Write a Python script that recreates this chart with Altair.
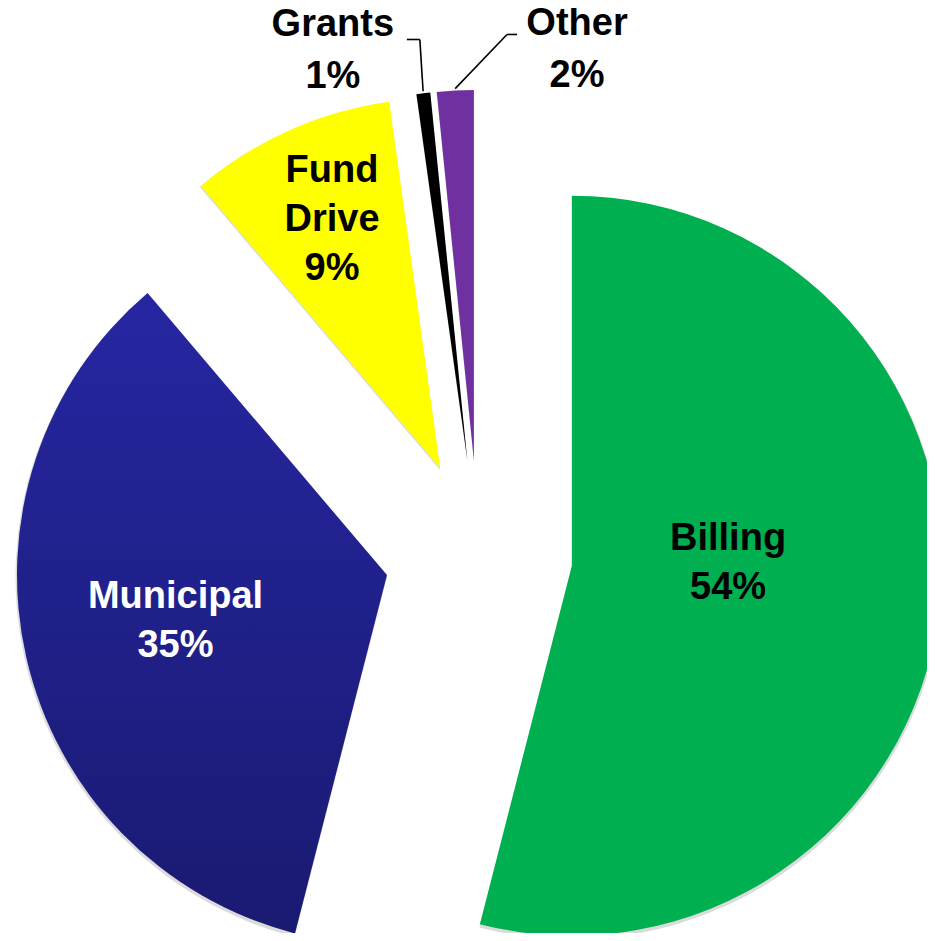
import altair as alt
import pandas as pd

# ---- data ----
sources = ["Billing", "Municipal", "Fund Drive", "Grants", "Other"]
shares = [54.0, 34.8, 9.0, 0.6, 1.6]
pct_labels = ["54%", "35%", "9%", "1%", "2%"]
label_names = ["Billing", "Municipal", "Fund\nDrive", "Grants", "Other"]

# ---- styles ----
colors = ["#00b050", "#22229c", "#ffff00", "#000000", "#7030a0"]
text_colors = ["#000000", "#ffffff", "#000000", "#000000", "#000000"]

# ---- layout ----
CX, CY = 470.6, 546.0      # pie centre (px)
R = 370                    # outer radius
EXPLODE = 94               # explode distance of every slice
label_r = [157, 214, 306, 445, 437]             # label distance from slice apex
label_deg = [84.2, 261.2, 339.3, 342.4, 13.65]  # label direction from slice apex
leader = [0, 0, 0, 1, 1]
lead_dy = [0, 0, 0, 3, -1]
lead_x1 = [0, 0, 0, 74, -60]
lead_x2 = [0, 0, 0, 87, -70]

df = pd.DataFrame({
    "idx": list(range(len(sources))),
    "source": sources,
    "share": shares,
    "label": [f"{n}\n{p}" for n, p in zip(label_names, pct_labels)],
    "tcolor": text_colors,
    "label_r": label_r,
    "label_deg": label_deg,
    "leader": leader,
    "lead_dy": lead_dy,
    "lead_x1": lead_x1,
    "lead_x2": lead_x2,
})

base = (
    alt.Chart(df)
    .transform_joinaggregate(total="sum(share)")
    .transform_window(cum="sum(share)", sort=[alt.SortField("idx")], frame=[None, 0])
    .transform_calculate(a0="2*PI*(datum.cum-datum.share)/datum.total")
    .transform_calculate(a1="2*PI*datum.cum/datum.total")
    .transform_calculate(mid="(datum.a0+datum.a1)/2")
    .transform_calculate(ax=f"{CX}+{EXPLODE}*sin(datum.mid)")
    .transform_calculate(ay=f"{CY}-{EXPLODE}*cos(datum.mid)")
    .transform_calculate(lx="datum.ax + datum.label_r*sin(datum.label_deg*PI/180)")
    .transform_calculate(ly="datum.ay - datum.label_r*cos(datum.label_deg*PI/180)")
)

pos = dict(
    x=alt.X("ax:Q", scale=None, axis=None),
    y=alt.Y("ay:Q", scale=None, axis=None),
    theta=alt.Theta("a0:Q", scale=None),
    theta2="a1:Q",
)

# faint soft shadow rim beneath the slices
shadow = base.transform_calculate(sy="datum.ay + 2").mark_arc(
    outerRadius=R + 1.5, fill="#888888", opacity=0.3,
).encode(
    x=alt.X("ax:Q", scale=None, axis=None),
    y=alt.Y("sy:Q", scale=None, axis=None),
    theta=alt.Theta("a0:Q", scale=None),
    theta2="a1:Q",
)

arcs = base.transform_filter("datum.source != 'Municipal'").mark_arc(outerRadius=R).encode(
    color=alt.Color("source:N", scale=alt.Scale(domain=sources, range=colors), legend=None),
    **pos,
)

muni = base.transform_filter("datum.source == 'Municipal'").mark_arc(
    outerRadius=R,
    fill=alt.LinearGradient(
        gradient="linear",
        stops=[alt.GradientStop(color="#2626a2", offset=0),
               alt.GradientStop(color="#1a1a72", offset=1)],
        x1=0, x2=0, y1=0, y2=1,
    ),
).encode(**pos)

lead = (
    base.transform_filter("datum.leader == 1")
    .transform_calculate(sx="datum.lx + datum.lead_x1")
    .transform_calculate(ex="datum.lx + datum.lead_x2")
    .transform_calculate(hy="datum.ly + datum.lead_dy")
    .transform_calculate(tx=f"datum.ax + {R + 2}*sin(datum.mid)")
    .transform_calculate(ty=f"datum.ay - {R + 2}*cos(datum.mid)")
)
seg1 = lead.mark_rule(color="black", strokeWidth=1.6).encode(
    x=alt.X("sx:Q", scale=None, axis=None), x2="ex:Q",
    y=alt.Y("hy:Q", scale=None, axis=None), y2="hy:Q",
)
seg2 = lead.mark_rule(color="black", strokeWidth=1.6).encode(
    x=alt.X("ex:Q", scale=None, axis=None), x2="tx:Q",
    y=alt.Y("hy:Q", scale=None, axis=None), y2="ty:Q",
)

text_enc = dict(
    x=alt.X("lx:Q", scale=None, axis=None),
    y=alt.Y("ly:Q", scale=None, axis=None),
    text="label:N",
    color=alt.Color("tcolor:N", scale=None),
)
text_style = dict(font="Liberation Sans", fontSize=38, fontWeight="bold",
                  lineBreak="\n", align="center", baseline="alphabetic")

texts_in = base.transform_filter("datum.leader == 0").mark_text(
    lineHeight=49, **text_style).encode(**text_enc)
texts_out = base.transform_filter("datum.leader == 1").mark_text(
    lineHeight=52, **text_style).encode(**text_enc)

chart = alt.layer(shadow, arcs, muni, seg1, seg2, texts_in, texts_out).properties(
    width=919, height=925, padding=0, autosize="none"
).configure_view(stroke=None)

chart.save("out.html", embed_options={"renderer": "svg", "actions": False})
